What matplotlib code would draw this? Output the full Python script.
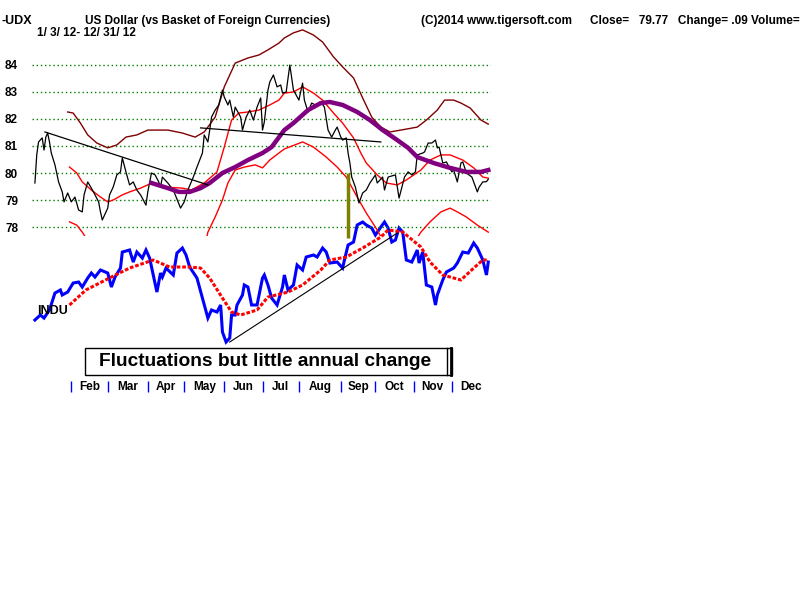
import numpy as np
import matplotlib
matplotlib.use("Agg")
from matplotlib import pyplot as plt
from matplotlib.patches import Rectangle
from matplotlib.lines import Line2D

nan = np.nan

# trading day index (0 = 1/3/12, 249 = 12/31/12)
close_day = [0, 1, 2, 4, 5, 6, 7, 8, 9, 11, 13, 15, 16, 18, 20, 22, 24, 26, 27, 29,
             31, 33, 35, 36, 37, 40, 41, 43, 45, 47, 48, 50, 52, 54, 56, 58, 59, 61, 62, 64,
             66, 68, 69, 70, 73, 76, 80, 82, 84, 87, 89, 92, 93, 95, 96, 97, 99, 101, 103, 104,
             106, 107, 109, 110, 113, 114, 116, 118, 120, 122, 124, 125, 126, 128, 129, 131, 133, 135, 136, 138,
             140, 142, 145, 147, 148, 150, 152, 154, 157, 159, 161, 163, 165, 166, 168, 169, 171, 172, 173, 174,
             176, 178, 180, 182, 184, 187, 188, 191, 192, 194, 198, 200, 203, 205, 207, 209, 210, 213, 214, 216,
             218, 220, 221, 222, 224, 226, 229, 230, 232, 234, 235, 237, 240, 243, 244, 246, 248, 249]
close_val = [79.63, 80.67, 81.15, 81.30, 80.85, 81.33, 81.48, 81.15, 80.74, 80.30, 79.67, 79.30, 78.93, 79.26, 78.93, 79.11, 78.63, 78.56, 79.19, 79.67,
             79.44, 79.19, 78.93, 78.56, 78.26, 78.70, 79.19, 79.48, 79.93, 80.04, 80.56, 80.04, 79.56, 79.67, 79.37, 79.19, 79.07, 78.81, 79.30, 80.00,
             79.93, 79.67, 79.48, 79.85, 79.63, 79.37, 78.70, 78.93, 79.37, 79.85, 80.22, 80.74, 81.41, 81.15, 81.59, 82.07, 82.33, 82.52, 83.07, 82.81,
             82.52, 82.70, 82.07, 82.44, 82.07, 81.59, 82.07, 82.33, 81.96, 82.44, 82.78, 81.59, 81.89, 83.07, 83.37, 83.63, 83.19, 83.26, 82.96, 83.00,
             84.00, 83.07, 82.70, 83.33, 82.70, 82.26, 82.59, 82.52, 82.63, 82.44, 81.59, 81.33, 81.59, 81.70, 81.33, 81.22, 81.30, 80.74, 80.37, 79.85,
             79.48, 78.89, 79.26, 79.37, 79.63, 79.93, 79.63, 79.85, 79.37, 79.85, 79.93, 79.07, 79.85, 80.04, 79.93, 80.04, 80.67, 80.74, 80.78, 81.11,
             81.11, 81.22, 80.93, 80.96, 80.37, 80.41, 80.04, 80.11, 79.67, 80.37, 80.41, 80.00, 79.85, 79.30, 79.48, 79.67, 79.68, 79.77]

ma50_day = [64, 73, 79, 85, 91, 96, 103, 110, 117, 125, 130, 137, 142, 150, 157, 162, 169, 177, 184, 191,
            199, 205, 210, 219, 228, 237, 245, 249]
ma50_val = [79.63, 79.44, 79.30, 79.30, 79.44, 79.63, 80.00, 80.22, 80.48, 80.74, 80.96, 81.59, 81.85, 82.33, 82.59, 82.63, 82.52, 82.26, 81.96, 81.59,
            81.22, 80.93, 80.59, 80.37, 80.19, 80.04, 80.04, 80.11]

mid_day = [19, 23, 26, 31, 36, 40, 43, 48, 52, 58, 63, 69, 71, 81, 86, 93, 100, 104, 108, 112,
           117, 123, 129, 134, 137, 142, 147, 153, 158, 164, 169, 175, 179, 182, 188, 193, 199, 204, 212, 217,
           223, 228, 235, 241, 246, 249]
mid_val = [80.22, 80.00, 79.67, 79.37, 79.11, 78.93, 79.00, 79.19, 79.30, 79.44, 79.59, 79.56, 79.48, 79.44, 79.37, 79.63, 80.04, 80.96, 81.96, 82.22,
           82.26, 82.33, 82.52, 82.70, 82.96, 83.00, 83.19, 82.96, 82.70, 82.22, 81.85, 81.30, 80.74, 80.37, 79.93, 79.63, 79.56, 79.74, 80.11, 80.48,
           80.67, 80.67, 80.48, 80.19, 79.85, 79.81]

upper_day = [18, 21, 25, 29, 34, 40, 45, 50, 56, 62, 69, 73, 81, 88, 93, 99, 104, 110, 117, 123,
             128, 134, 137, 142, 147, 153, 158, 164, 169, 175, 180, 185, 190, 195, 201, 210, 215, 221, 225, 230,
             234, 239, 245, 249]
upper_val = [82.26, 82.22, 81.85, 81.41, 81.11, 80.93, 81.04, 81.33, 81.41, 81.59, 81.59, 81.59, 81.48, 81.33, 81.52, 82.07, 83.19, 84.07, 84.26, 84.37,
             84.56, 84.81, 85.00, 85.19, 85.30, 85.11, 84.85, 84.30, 83.93, 83.52, 82.78, 82.07, 81.70, 81.52, 81.59, 81.70, 81.96, 82.33, 82.70, 82.70,
             82.59, 82.41, 81.96, 81.81]

lower_day = [19, 23, 26, 29, 60, 94, 95, 99, 103, 106, 110, 115, 121, 125, 129, 134, 137, 147, 153, 160,
             166, 171, 177, 182, 188, 191, 200, 209, 212, 217, 223, 228, 232, 237, 243, 249]
lower_val = [78.19, 78.07, 77.81, 77.50, nan, 77.50, 77.81, 78.37, 79.00, 79.63, 80.11, 80.22, 80.30, 80.19, 80.48, 80.74, 80.89, 81.15, 80.96, 80.59,
             80.22, 79.85, 79.11, 78.52, 77.89, 77.52, nan, 77.50, 77.81, 78.19, 78.56, 78.70, 78.56, 78.37, 78.07, 77.81]

trend1_day = [5.5, 95]
trend1_val = [81.52, 79.56]
trend2_day = [91, 190]
trend2_val = [81.67, 81.15]
signal_day = 172
signal_range = [77.6, 80.0]

indu_day = [0, 3, 5, 8, 11, 14, 15, 18, 21, 24, 26, 29, 31, 33, 36, 40, 42, 44, 47, 48,
            52, 54, 56, 59, 61, 63, 67, 69, 70, 72, 76, 78, 81, 83, 85, 89, 92, 95, 97, 100,
            102, 103, 105, 107, 108, 110, 111, 114, 115, 117, 119, 122, 125, 126, 128, 130, 133, 136, 137, 139,
            142, 144, 147, 149, 153, 155, 158, 160, 162, 166, 169, 170, 172, 175, 177, 180, 182, 185, 187, 190,
            192, 194, 196, 198, 200, 202, 204, 207, 210, 211, 213, 215, 218, 220, 221, 224, 226, 230, 232, 235,
            238, 241, 243, 246, 248, 249]
indu_val = [12356, 12420, 12381, 12484, 12701, 12740, 12676, 12714, 12829, 12842, 12778, 12893, 12957, 12906, 12996, 12957, 12778, 12906, 13021, 13226,
            13252, 13098, 13226, 13149, 13252, 13149, 12714, 12957, 12906, 13021, 12932, 13213, 13277, 13188, 13034, 12893, 12637, 12381, 12484, 12458,
            12548, 12202, 12074, 12125, 12420, 12420, 12548, 12676, 12804, 12778, 12548, 12548, 12893, 12932, 12804, 12637, 12548, 12778, 12932, 12740,
            12804, 13060, 12996, 13162, 13188, 13162, 13277, 13226, 13085, 13098, 13021, 13124, 13316, 13354, 13572, 13610, 13572, 13533, 13444, 13546,
            13610, 13533, 13354, 13380, 13533, 13482, 13124, 13098, 13252, 13085, 13226, 12804, 12778, 12548, 12676, 12868, 12970, 13021, 13085, 13226,
            13213, 13341, 13277, 13124, 12932, 13098]

indu_ma_day = [19, 28, 42, 52, 65, 74, 85, 91, 96, 103, 108, 113, 122, 128, 139, 147, 157, 162, 171, 180,
               190, 194, 202, 212, 217, 224, 234, 241, 246, 249]
indu_ma_val = [12548, 12740, 12906, 13021, 13124, 13034, 13034, 13021, 12893, 12637, 12458, 12420, 12484, 12650, 12714, 12804, 12996, 13124, 13162, 13277,
               13418, 13508, 13482, 13290, 13098, 12932, 12868, 13021, 13124, 13124]

indu_trend_day = [107, 199]
indu_trend_val = [12074, 13469]

price_ticks = [78, 79, 80, 81, 82, 83, 84]
month_names = ["Feb", "Mar", "Apr", "May", "Jun", "Jul", "Aug", "Sep", "Oct", "Nov", "Dec"]
month_start = [20, 40, 62, 82, 104, 125, 145, 168, 187, 208, 229]
last_day = 249

plt.rcParams["font.family"] = ["Liberation Sans", "DejaVu Sans"]
plt.rcParams["font.weight"] = "bold"

fig = plt.figure(figsize=(8, 6), dpi=100)
fig.patch.set_facecolor("white")

X0, XW = 32 / 800, 459 / 800
XLIM = (-1.6, 250.5)

# INDU panel (drawn first, underneath)
ax2 = fig.add_axes([X0, 250 / 600, XW, 135 / 600])
ax2.set_xlim(*XLIM)
ax2.set_ylim(11972, 13700)
ax2.axis("off")
ax2.plot(indu_day, indu_val, color="#0000ff", lw=2.2, solid_joinstyle="miter")
ax2.plot(indu_ma_day, indu_ma_val, color="#ff0000", lw=2.2, ls=(0, (1.2, 0.6)))
ax2.plot(indu_trend_day, indu_trend_val, color="black", lw=0.8)
ax2.text(1, 12470, "INDU", fontsize=9, fontweight="bold", va="center", ha="left")

# price panel
ax = fig.add_axes([X0, 364 / 600, XW, 211 / 600])
ax.patch.set_visible(False)
ax.set_xlim(*XLIM)
ax.set_ylim(77.667, 85.481)
for s in ax.spines.values():
    s.set_visible(False)
ax.set_xticks([])
ax.set_yticks(price_ticks)
ax.set_yticklabels([str(t) for t in price_ticks], fontsize=8.5, fontweight="bold")
ax.tick_params(axis="y", length=0, pad=10)
for t in price_ticks:
    ax.axhline(t, color="#008000", lw=1, ls=(0, (1, 2)), zorder=1)

ax.plot(upper_day, upper_val, color="#800000", lw=1)
ax.plot(mid_day, mid_val, color="#ff0000", lw=1)
ax.plot(lower_day, lower_val, color="#ff0000", lw=1)
ax.plot(close_day, close_val, color="black", lw=0.9)
ax.plot(ma50_day, ma50_val, color="#800080", lw=3.2)
ax.plot(trend1_day, trend1_val, color="black", lw=0.9)
ax.plot(trend2_day, trend2_val, color="black", lw=0.9)
ax.vlines(signal_day, signal_range[0], signal_range[1], color="#808000", lw=2.5, clip_on=False)

# month strip
ax3 = fig.add_axes([X0, 207 / 600, XW, 13 / 600])
ax3.set_xlim(*XLIM)
ax3.set_ylim(0, 1)
ax3.axis("off")
ax3.vlines(month_start, 0.05, 0.95, color="#0000ff", lw=1)
edges = month_start + [last_day + 1]
for i, name in enumerate(month_names):
    ax3.text((edges[i] + edges[i + 1]) / 2, 0.45, name, ha="center", va="center",
             fontsize=8.5, fontweight="bold")

# header
fig.text(2 / 800, 1 - 21 / 600, "-UDX", fontsize=9, fontweight="bold", va="center")
fig.text(85 / 800, 1 - 21 / 600, "US Dollar (vs Basket of Foreign Currencies)",
         fontsize=8.5, fontweight="bold", va="center")
fig.text(37 / 800, 1 - 33.5 / 600, "1/ 3/ 12- 12/ 31/ 12", fontsize=8.5, fontweight="bold", va="center")
fig.text(421 / 800, 1 - 21 / 600, "(C)2014 www.tigersoft.com", fontsize=8.5, fontweight="bold", va="center")
fig.text(590 / 800, 1 - 21 / 600, "Close=   79.77   Change= .09 Volume=", fontsize=8.5,
         fontweight="bold", va="center")

# caption box
fig.patches.append(Rectangle((85 / 800, 1 - 375 / 600), 367 / 800, 27 / 600, transform=fig.transFigure,
                             fill=False, edgecolor="black", lw=1))
fig.lines.append(Line2D([447 / 800, 447 / 800], [1 - 375 / 600, 1 - 348 / 600], transform=fig.transFigure,
                        color="black", lw=1))
fig.lines.append(Line2D([451.5 / 800, 451.5 / 800], [1 - 375 / 600, 1 - 348 / 600], transform=fig.transFigure,
                        color="black", lw=2))
fig.text(265 / 800, 1 - 362 / 600, "Fluctuations but little annual change", fontsize=13.8,
         fontweight="bold", ha="center", va="center")

fig.savefig("out.png", dpi=100)
